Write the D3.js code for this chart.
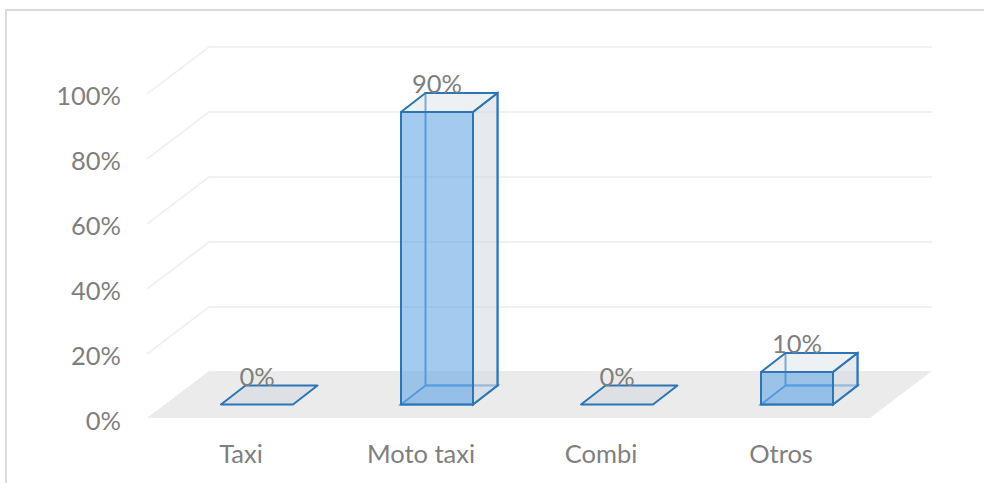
<!DOCTYPE html>
<html>
<head>
<meta charset="utf-8">
<script src="https://cdn.jsdelivr.net/npm/d3@7"></script>
<style>
  html, body { margin: 0; padding: 0; background: #fff; }
  text { font-family: Lato, "Open Sans", sans-serif; fill: #7f7f7f; }
</style>
</head>
<body>
<div id="chart"></div>
<script>
const categories = ["Taxi", "Moto taxi", "Combi", "Otros"];
const shares = [0, 90, 0, 10];
const yTicks = [0, 20, 40, 60, 80, 100];

const width = 984;
const height = 483;
const labelSize = 25.5;

// oblique offsets: the whole floor depth, and the bar inset and depth inside it
const wall = { dx: 62, dy: -47 };
const inset = { dx: 18, dy: -14.5 };
const depth = { dx: 24.5, dy: -19 };

const x = d3.scaleBand().domain(categories).range([149, 869]).paddingInner(0.6).paddingOuter(0.3);
const y = d3.scaleLinear().domain([0, 100]).range([419, 94]);

const svg = d3.select("#chart").append("svg").attr("width", width).attr("height", height);

// chart frame, runs off the page on the bottom
svg.append("path")
  .attr("d", `M6,483V10H${width}`)
  .attr("fill", "none")
  .attr("stroke", "#dcdcdc")
  .attr("stroke-width", 2);

// floor
const floorY = y(0) - 1;
svg.append("polygon")
  .attr("points", [
    [147, floorY],
    [870, floorY],
    [870 + wall.dx, floorY + wall.dy],
    [147 + wall.dx, floorY + wall.dy],
  ].join(" "))
  .attr("fill", "#ebebeb");

// gridlines bend at the back wall
svg.append("g")
  .selectAll("path")
  .data(yTicks.filter((d) => d > 0))
  .join("path")
  .attr("d", (d) => `M147,${y(d)}l${wall.dx},${wall.dy}H932`)
  .attr("fill", "none")
  .attr("stroke", "#f1f1f1")
  .attr("stroke-width", 2);

const yAxis = d3.axisLeft(y).tickValues(yTicks).tickFormat((d) => `${d}%`).tickSize(0).tickPadding(0);
svg.append("g")
  .attr("transform", "translate(121,2)")
  .call(yAxis)
  .call((g) => g.select(".domain").remove())
  .selectAll("text")
  .attr("font-size", labelSize);

const xAxis = d3.axisBottom(x).tickSize(0).tickPadding(0);
svg.append("g")
  .attr("transform", "translate(2,445)")
  .call(xAxis)
  .call((g) => g.select(".domain").remove())
  .selectAll("text")
  .attr("font-size", labelSize);

function face(points) {
  return `M${points.join("L")}Z`;
}

const bars = svg.append("g")
  .selectAll("g")
  .data(categories.map((name, i) => ({ name, value: shares[i] })))
  .join("g");

bars.each(function (d) {
  const g = d3.select(this);
  const x0 = x(d.name) + inset.dx;
  const x1 = x0 + x.bandwidth();
  const yb = y(0) + inset.dy;
  const yt = y(d.value) + inset.dy;
  const bx = depth.dx;
  const by = depth.dy;

  const sideFill = "#d5dce4";
  const edge = "#2e75b6";

  if (d.value > 0) {
    // hidden faces first, they show through the front
    g.append("path")
      .attr("d", face([[x0 + bx, yb + by], [x1 + bx, yb + by], [x1 + bx, yt + by], [x0 + bx, yt + by]]))
      .attr("fill", "none")
      .attr("stroke", "#3f8ad0")
      .attr("stroke-width", 2);
    g.append("path")
      .attr("d", face([[x0, yb], [x1, yb], [x1 + bx, yb + by], [x0 + bx, yb + by]]))
      .attr("fill", sideFill)
      .attr("fill-opacity", 0.65)
      .attr("stroke", "#3f8ad0")
      .attr("stroke-width", 2);
    g.append("path")
      .attr("d", face([[x1, yb], [x1 + bx, yb + by], [x1 + bx, yt + by], [x1, yt]]))
      .attr("fill", sideFill)
      .attr("fill-opacity", 0.6)
      .attr("stroke", edge)
      .attr("stroke-width", 2);
    g.append("path")
      .attr("d", face([[x0, yb], [x1, yb], [x1, yt], [x0, yt]]))
      .attr("fill", "#65a9e6")
      .attr("fill-opacity", 0.6)
      .attr("stroke", edge)
      .attr("stroke-width", 2);
  }

  // top face; for a zero value it is all that is left of the bar
  g.append("path")
    .attr("d", face([[x0, yt], [x1, yt], [x1 + bx, yt + by], [x0 + bx, yt + by]]))
    .attr("fill", "#d5dce4")
    .attr("fill-opacity", d.value > 0 ? 0.4 : 0.65)
    .attr("stroke", edge)
    .attr("stroke-width", 2)
    .attr("stroke-linejoin", "round");

  g.append("text")
    .attr("x", x0 + x.bandwidth() / 2)
    .attr("y", yt + by)
    .attr("text-anchor", "middle")
    .attr("font-size", labelSize)
    .text(`${d.value}%`);
});
</script>
</body>
</html>
